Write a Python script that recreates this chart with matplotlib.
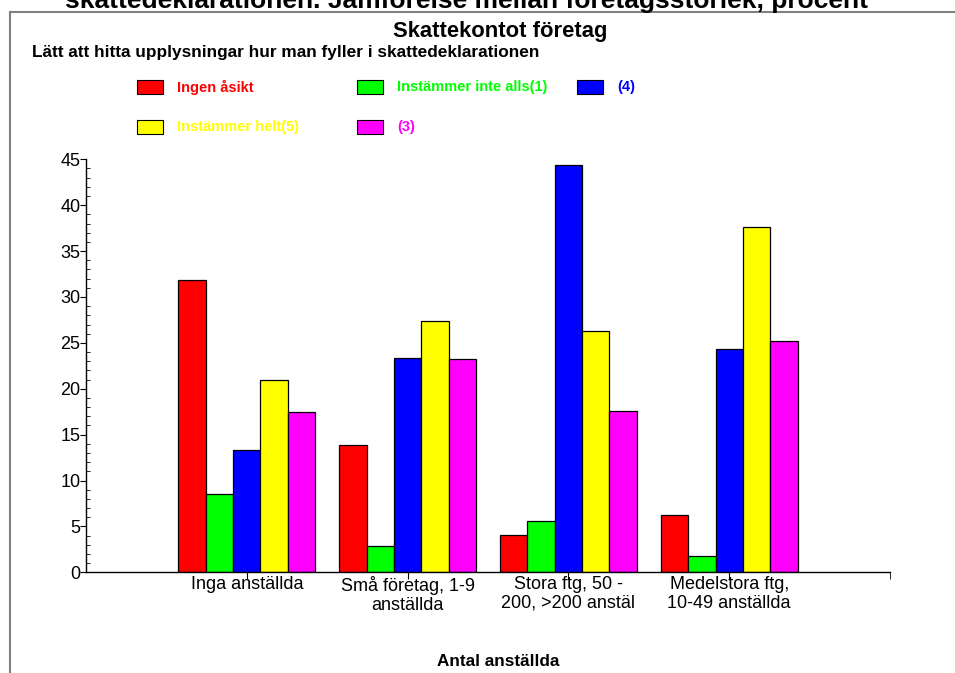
"""Skattekontot företag - stapeldiagram per företagsstorlek."""

import numpy as np
import matplotlib.pyplot as plt
from matplotlib.patches import Rectangle
from matplotlib.lines import Line2D

plt.rcParams.update({"font.family": ["Liberation Sans", "DejaVu Sans"]})

W, H = 955, 673

# ──────────────────────────────────────────────
#  Données
# ──────────────────────────────────────────────
categories = ["Inga anställda", "Små företag, 1-9\nanställda",
              "Stora ftg, 50 -\n200, >200 anstäl", "Medelstora ftg,\n10-49 anställda"]
series_names = ["Ingen åsikt", "Instämmer inte alls(1)", "(4)", "Instämmer helt(5)", "(3)"]
ingen_asikt = [31.8, 13.9, 4.1, 6.2]
inte_alls = [8.5, 2.9, 5.6, 1.8]
fyra = [13.3, 23.3, 44.4, 24.3]
helt = [21.0, 27.4, 26.3, 37.6]
tre = [17.5, 23.2, 17.6, 25.2]
colors = ["#ff0000", "#00ff00", "#0000ff", "#ffff00", "#ff00ff"]
y_ticks = list(range(0, 50, 5))


def fx(px):
    return px / W


def fy(py):
    return 1 - py / H


fig = plt.figure(figsize=(W / 100, H / 100), dpi=100)
ax = fig.add_axes([fx(86), fy(572.3), fx(890) - fx(86), fy(159.3) - fy(572.3)])

values = [ingen_asikt, inte_alls, fyra, helt, tre]
x = np.arange(len(categories))
w = 0.17
for i, (vals, col) in enumerate(zip(values, colors)):
    ax.bar(x + (i - 2) * w, vals, width=w, color=col, edgecolor="black", lw=0.9)

ax.set_xlim(-1, 4)
ax.set_ylim(0, 45)
ax.spines[["top", "right"]].set_visible(False)
ax.spines[["left", "bottom"]].set_linewidth(1.0)

ax.set_yticks(y_ticks)
ax.set_yticks(np.arange(0, 46, 1), minor=True)
ax.tick_params(axis="y", which="major", direction="out", length=4, labelsize=13, pad=0)
ax.tick_params(axis="y", which="minor", direction="in", length=3)
ax.set_xticks(x)
ax.set_xticklabels(categories, fontsize=13)
for lab in ax.get_xticklabels():
    lab.set_linespacing(1.1)
ax.set_xticks([4], minor=True)
ax.tick_params(axis="x", which="both", direction="out", length=5, pad=-2)

# ---- titres ----
fig.text(fx(466), fy(8), "skattedeklarationen. Jämförelse mellan företagsstorlek, procent",
         ha="center", va="baseline", fontsize=19, fontweight="bold")
fig.text(fx(500), fy(31), "Skattekontot företag", ha="center", va="center",
         fontsize=15.8, fontweight="bold")
fig.text(fx(32), fy(53), "Lätt att hitta upplysningar hur man fyller i skattedeklarationen",
         ha="left", va="center", fontsize=12.4, fontweight="bold")
fig.text(fx(498), fy(662), "Antal anställda", ha="center", va="center",
         fontsize=12.3, fontweight="bold")

# ---- cadre ----
fig.add_artist(Line2D([fx(10), 1], [fy(12), fy(12)], color="#808080", lw=1.5))
fig.add_artist(Line2D([fx(10), fx(10)], [fy(12), 0], color="#808080", lw=1.5))

# ---- légende (3 colonnes, remplie par lignes) ----
col_x = [137, 357, 577]
row_y = [87, 127]
for i, (name, col) in enumerate(zip(series_names, colors)):
    px = col_x[i % 3]
    py = row_y[i // 3]
    fig.add_artist(Rectangle((fx(px), fy(py + 7)), fx(26), 14 / H,
                             facecolor=col, edgecolor="black", lw=0.8))
    fig.text(fx(px + 40), fy(py), name, color=col, ha="left", va="center",
             fontsize=10.5, fontweight="bold")

fig.savefig("out.png", dpi=100)
